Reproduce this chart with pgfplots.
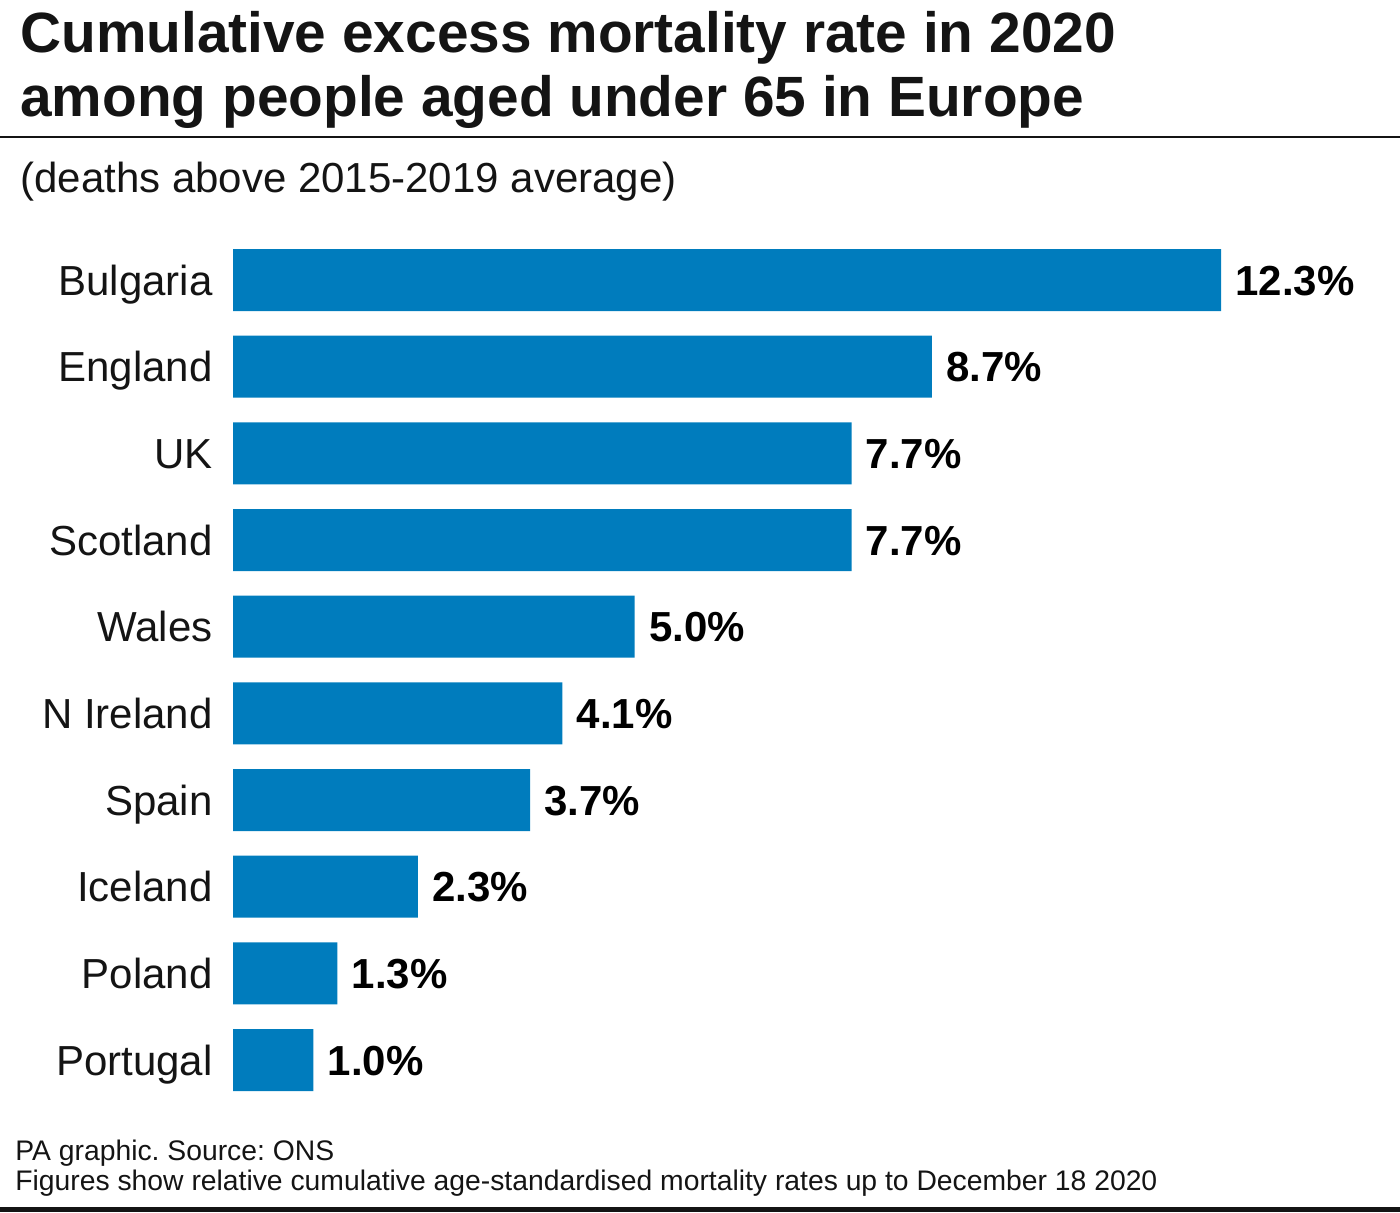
\documentclass[border=0pt]{standalone}
\usepackage{pgfplots}
\pgfplotsset{compat=1.18}
\usepackage{fontspec}
\setmainfont{Liberation Sans}
\frenchspacing
\definecolor{barblue}{RGB}{0,124,189}
\definecolor{ink}{RGB}{20,20,20}
\begin{document}
\begin{tikzpicture}[x=1pt,y=1pt]
\useasboundingbox (0,0) rectangle (700,606);
\node[anchor=base west, inner sep=0, text=ink, font=\fontsize{28.4}{30}\selectfont\bfseries] at (10,579.5) {Cumulative excess mortality rate in 2020};
\node[anchor=base west, inner sep=0, text=ink, font=\fontsize{28.4}{30}\selectfont\bfseries] at (10,547.5) {among people aged under 65 in Europe};
\draw[line width=1.4pt, ink] (0,537.5) -- (700,537.5);
\node[anchor=base west, inner sep=0, text=ink, font=\fontsize{21}{24}\selectfont] at (10,509.5) {(deaths above 2015-2019 average)};
\node[anchor=base west, inner sep=0, text=ink, font=\fontsize{14.15}{16}\selectfont] at (7.5,26) {PA graphic. Source: ONS};
\node[anchor=base west, inner sep=0, text=ink, font=\fontsize{14.15}{16}\selectfont] at (7.5,11) {Figures show relative cumulative age-standardised mortality rates up to December 18 2020};
\draw[line width=2.5pt, ink] (0,1.25) -- (700,1.25);
\begin{axis}[
  at={(116.5pt,54.33pt)}, anchor=south west,
  scale only axis, width=494pt, height=433.33pt,
  xmin=0, xmax=12.3, ymin=-0.5, ymax=9.5,
  y dir=reverse, clip=false,
  axis line style={draw=none},
  major tick length=0pt,
  xtick=\empty,
  ytick={0,...,9},
  yticklabels={Bulgaria,England,UK,Scotland,Wales,N Ireland,Spain,Iceland,Poland,Portugal},
  yticklabel style={font=\fontsize{21}{21}\selectfont, text=ink, inner sep=0pt, anchor=base east, xshift=-10pt, yshift=-7.5pt},
  /pgf/number format/assume math mode=true,
]
\addplot[xbar, fill=barblue, draw=none, bar width=31pt, point meta=x,
  nodes near coords={\pgfmathprintnumber[fixed,fixed zerofill,precision=1]{\pgfplotspointmeta}\%},
  every node near coord/.append style={font=\fontsize{21}{21}\selectfont\bfseries, text=black, inner sep=0pt, anchor=base west, xshift=7pt, yshift=-7.5pt}] coordinates {
(12.3,0) (8.7,1) (7.7,2) (7.7,3) (5.0,4) (4.1,5) (3.7,6) (2.3,7) (1.3,8) (1.0,9)
};
\end{axis}
\end{tikzpicture}
\end{document}
